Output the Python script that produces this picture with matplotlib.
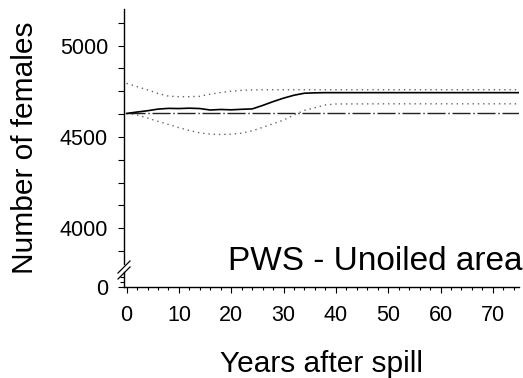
import numpy as np
import matplotlib
matplotlib.use("Agg")
import matplotlib.pyplot as plt
from matplotlib.ticker import MultipleLocator, FixedLocator
from matplotlib.lines import Line2D

plt.rcParams['font.family'] = ['Liberation Sans', 'DejaVu Sans']

# data
years = [0, 2, 4, 6, 8, 10, 12, 14, 16, 18, 20, 22, 24, 26, 28, 30, 32, 34, 36, 38, 40, 50, 60, 70, 76]
mean_females = [4628, 4636, 4643, 4652, 4656, 4655, 4657, 4655, 4647, 4650, 4648, 4651, 4653,
                4672, 4693, 4712, 4728, 4739, 4741, 4742, 4742, 4742, 4742, 4742, 4742]
upper_ci = [4793, 4775, 4757, 4738, 4723, 4720, 4720, 4722, 4734, 4743, 4750, 4755, 4757,
            4758, 4758, 4758, 4758, 4758, 4758, 4758, 4758, 4758, 4758, 4758, 4758]
lower_ci = [4628, 4620, 4603, 4585, 4568, 4550, 4535, 4522, 4515, 4513, 4515, 4520, 4533,
            4552, 4572, 4592, 4620, 4645, 4660, 4675, 4680, 4681, 4681, 4681, 4681]
no_spill = [4628] * len(years)

label_text = "PWS - Unoiled area"
x_label = "Years after spill"
y_label = "Number of females"

W, H = 523, 378
fig = plt.figure(figsize=(W / 100, H / 100), dpi=100)

def fx(px):
    return px / W

def fy(py):
    return 1 - py / H

left, right = fx(124), fx(519)
ax = fig.add_axes([left, fy(264), right - left, (264 - 9) / H])
ax2 = fig.add_axes([left, fy(287), right - left, (287 - 272) / H])

# main panel
ax.plot(years, no_spill, color='#222222', lw=1.0, dashes=(13, 2, 1, 2))
ax.plot(years, upper_ci, color='#666666', lw=1.0, dashes=(1, 2.8))
ax.plot(years, lower_ci, color='#666666', lw=1.0, dashes=(1, 2.8))
ax.plot(years, mean_females, color='black', lw=1.2)

ax.set_xlim(-0.5, 75)
ax.set_ylim(3804, 5200)
ax.yaxis.set_major_locator(FixedLocator([4000, 4500, 5000]))
ax.yaxis.set_minor_locator(MultipleLocator(125))
for s in ['top', 'right', 'bottom']:
    ax.spines[s].set_visible(False)
ax.spines['left'].set_linewidth(1.0)
ax.tick_params(axis='x', which='both', bottom=False, labelbottom=False)
ax.tick_params(axis='y', which='both', direction='out', length=4.5, width=0.8,
               labelsize=15.5, pad=7)

# small bottom panel holding the zero
ax2.set_xlim(-0.5, 75)
ax2.set_ylim(0, 100)
ax2.yaxis.set_major_locator(FixedLocator([0]))
ax2.yaxis.set_minor_locator(FixedLocator([35, 70]))
ax2.xaxis.set_major_locator(MultipleLocator(10))
ax2.xaxis.set_minor_locator(MultipleLocator(2))
for s in ['top', 'right']:
    ax2.spines[s].set_visible(False)
ax2.spines['left'].set_linewidth(1.0)
ax2.spines['bottom'].set_linewidth(1.0)
ax2.patch.set_alpha(0)
ax2.tick_params(axis='y', which='major', direction='out', length=4.5, width=0.8,
                labelsize=15.5, pad=7)
ax2.tick_params(axis='y', which='minor', direction='out', length=3, width=0.8)
ax2.tick_params(axis='x', which='major', direction='out', length=4, width=0.8,
                labelsize=15.5, pad=9)
ax2.tick_params(axis='x', which='minor', direction='out', length=2.2, width=0.8)

# break marks on the y axis
for y0 in (273, 279):
    fig.add_artist(Line2D([fx(118), fx(130)], [fy(y0), fy(y0 - 12)],
                          color='black', lw=0.9))

fig.text(fx(522), fy(270), label_text, fontsize=24, ha='right', va='baseline')
fig.text(fx(321.5), fy(371.7), x_label, fontsize=21.5, ha='center', va='baseline')
fig.text(fx(25), fy(148), y_label, fontsize=21.5, rotation=90, ha='center', va='center')

fig.savefig("out.png", dpi=100)
